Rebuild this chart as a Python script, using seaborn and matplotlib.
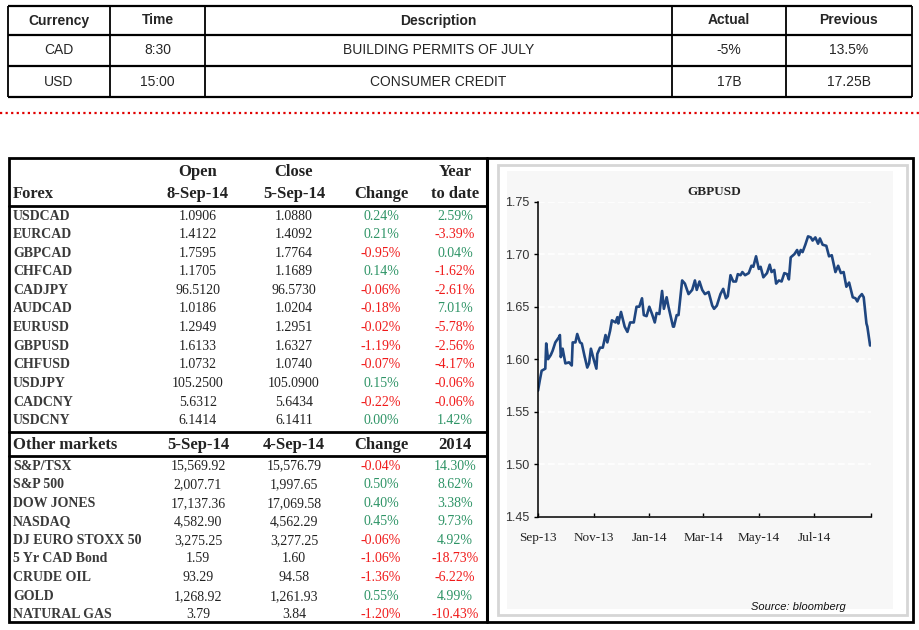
import pandas as pd
import matplotlib
matplotlib.use("Agg")
import matplotlib.pyplot as plt
from matplotlib.patches import Rectangle
import seaborn as sns

# economic calendar (top table)
event_cols = ["Currency", "Time", "Description", "Actual", "Previous"]
event_currency = ["CAD", "USD"]
event_time = ["8:30", "15:00"]
event_desc = ["BUILDING PERMITS OF JULY", "CONSUMER CREDIT"]
event_actual = ["-5%", "17B"]
event_previous = ["13.5%", "17.25B"]

# forex block
forex_names = ["USDCAD", "EURCAD", "GBPCAD", "CHFCAD", "CADJPY", "AUDCAD",
               "EURUSD", "GBPUSD", "CHFUSD", "USDJPY", "CADCNY", "USDCNY"]
forex_open = ["1.0906", "1.4122", "1.7595", "1.1705", "96.5120", "1.0186",
              "1.2949", "1.6133", "1.0732", "105.2500", "5.6312", "6.1414"]
forex_close = ["1.0880", "1.4092", "1.7764", "1.1689", "96.5730", "1.0204",
               "1.2951", "1.6327", "1.0740", "105.0900", "5.6434", "6.1411"]
forex_change = ["0.24%", "0.21%", "-0.95%", "0.14%", "-0.06%", "-0.18%",
                "-0.02%", "-1.19%", "-0.07%", "0.15%", "-0.22%", "0.00%"]
forex_ytd = ["2.59%", "-3.39%", "0.04%", "-1.62%", "-2.61%", "7.01%",
             "-5.78%", "-2.56%", "-4.17%", "-0.06%", "-0.06%", "1.42%"]

# other markets block
market_names = ["S&P/TSX", "S&P 500", "DOW JONES", "NASDAQ", "DJ EURO STOXX 50",
                "5 Yr CAD Bond", "CRUDE OIL", "GOLD", "NATURAL GAS"]
market_open = ["15,569.92", "2,007.71", "17,137.36", "4,582.90", "3,275.25",
               "1.59", "93.29", "1,268.92", "3.79"]
market_close = ["15,576.79", "1,997.65", "17,069.58", "4,562.29", "3,277.25",
                "1.60", "94.58", "1,261.93", "3.84"]
market_change = ["-0.04%", "0.50%", "0.40%", "0.45%", "-0.06%",
                 "-1.06%", "-1.36%", "0.55%", "-1.20%"]
market_ytd = ["14.30%", "8.62%", "3.38%", "9.73%", "4.92%",
              "-18.73%", "-6.22%", "4.99%", "-10.43%"]

# GBPUSD
gbp_dates = [
    "2013-09-01", "2013-09-03", "2013-09-05", "2013-09-09", "2013-09-10", "2013-09-12",
    "2013-09-15", "2013-09-17", "2013-09-20", "2013-09-24", "2013-09-25", "2013-09-26",
    "2013-09-28", "2013-10-01", "2013-10-05", "2013-10-08", "2013-10-09", "2013-10-12",
    "2013-10-14", "2013-10-17", "2013-10-19", "2013-10-22", "2013-10-25", "2013-10-27",
    "2013-10-29", "2013-11-01", "2013-11-04", "2013-11-05", "2013-11-08", "2013-11-11",
    "2013-11-14", "2013-11-16", "2013-11-19", "2013-11-21", "2013-11-25", "2013-11-27",
    "2013-11-28", "2013-12-01", "2013-12-05", "2013-12-08", "2013-12-11", "2013-12-15",
    "2013-12-18", "2013-12-21", "2013-12-24", "2013-12-26", "2013-12-29", "2014-01-01",
    "2014-01-04", "2014-01-07", "2014-01-09", "2014-01-12", "2014-01-15", "2014-01-17",
    "2014-01-20", "2014-01-22", "2014-01-27", "2014-01-28", "2014-01-31", "2014-02-02",
    "2014-02-06", "2014-02-09", "2014-02-13", "2014-02-17", "2014-02-20", "2014-02-22",
    "2014-02-25", "2014-02-28", "2014-03-03", "2014-03-07", "2014-03-11", "2014-03-13",
    "2014-03-16", "2014-03-20", "2014-03-23", "2014-03-26", "2014-03-28", "2014-03-31",
    "2014-04-03", "2014-04-06", "2014-04-08", "2014-04-11", "2014-04-13", "2014-04-16",
    "2014-04-20", "2014-04-23", "2014-04-25", "2014-04-28", "2014-05-01", "2014-05-03",
    "2014-05-06", "2014-05-10", "2014-05-13", "2014-05-15", "2014-05-18", "2014-05-20",
    "2014-05-23", "2014-05-26", "2014-05-29", "2014-06-01", "2014-06-03", "2014-06-05",
    "2014-06-09", "2014-06-12", "2014-06-14", "2014-06-16", "2014-06-18", "2014-06-21",
    "2014-06-24", "2014-06-27", "2014-06-29", "2014-07-02", "2014-07-05", "2014-07-07",
    "2014-07-10", "2014-07-14", "2014-07-17", "2014-07-20", "2014-07-24", "2014-07-27",
    "2014-07-30", "2014-08-02", "2014-08-05", "2014-08-08", "2014-08-12", "2014-08-15",
    "2014-08-17", "2014-08-19", "2014-08-22", "2014-08-24", "2014-08-27", "2014-08-28",
    "2014-08-31"]
gbp_values = [
    1.570, 1.580, 1.589, 1.591, 1.615, 1.600,
    1.604, 1.608, 1.616, 1.621, 1.623, 1.602,
    1.610, 1.596, 1.597, 1.594, 1.616, 1.616,
    1.624, 1.616, 1.615, 1.603, 1.592, 1.596,
    1.610, 1.600, 1.591, 1.605, 1.611, 1.611,
    1.623, 1.616, 1.627, 1.637, 1.635, 1.640,
    1.634, 1.645, 1.631, 1.626, 1.635, 1.635,
    1.650, 1.650, 1.658, 1.642, 1.641, 1.650,
    1.643, 1.635, 1.644, 1.643, 1.665, 1.648,
    1.659, 1.650, 1.631, 1.631, 1.642, 1.642,
    1.675, 1.672, 1.662, 1.666, 1.675, 1.666,
    1.674, 1.666, 1.662, 1.664, 1.651, 1.648,
    1.651, 1.662, 1.667, 1.658, 1.660, 1.680,
    1.674, 1.674, 1.681, 1.680, 1.683, 1.680,
    1.682, 1.689, 1.688, 1.698, 1.686, 1.688,
    1.678, 1.682, 1.690, 1.683, 1.685, 1.672,
    1.675, 1.674, 1.682, 1.681, 1.676, 1.697,
    1.700, 1.704, 1.699, 1.704, 1.702, 1.709,
    1.717, 1.716, 1.713, 1.716, 1.710, 1.715,
    1.709, 1.708, 1.698, 1.699, 1.683, 1.689,
    1.682, 1.683, 1.669, 1.673, 1.659, 1.658,
    1.655, 1.659, 1.662, 1.659, 1.634, 1.631,
    1.613]
month_ticks = ["2013-09-01", "2013-11-01", "2014-01-01", "2014-03-01",
               "2014-05-01", "2014-07-01", "2014-09-01"]
month_labels = ["Sep-13", "Nov-13", "Jan-14", "Mar-14", "May-14", "Jul-14", ""]

sns.set_style("ticks")
plt.rcParams["font.family"] = ["Liberation Sans", "DejaVu Sans"]

SANS = ["Liberation Sans", "DejaVu Sans"]
NARROW = ["Liberation Sans Narrow", "Liberation Sans", "DejaVu Sans"]
SERIF = ["Liberation Serif", "DejaVu Serif"]
GREEN = "#2e9466"
RED = "#f01a1a"
LABEL = "#3a3a3a"

fig = plt.figure(figsize=(9.2, 6.3), dpi=100)
fig.patch.set_facecolor("white")

# full-figure canvas in pixel units for the tables and frames
bg = fig.add_axes([0, 0, 1, 1])
bg.set_xlim(0, 920)
bg.set_ylim(630, 0)
bg.axis("off")

# ---- top table
x_lines = [8, 110, 205, 672, 786, 912]
y_lines = [6, 35, 66, 97]
for y in y_lines:
    bg.plot([x_lines[0], x_lines[-1]], [y, y], color="black", lw=1.6, solid_capstyle="butt")
for x in x_lines:
    bg.plot([x, x], [y_lines[0], y_lines[-1]], color="black", lw=1.3, solid_capstyle="butt")
col_centers = [(a + b) / 2 for a, b in zip(x_lines[:-1], x_lines[1:])]
row_centers = [(a + b) / 2 for a, b in zip(y_lines[:-1], y_lines[1:])]
for cx, name in zip(col_centers, event_cols):
    bg.text(cx, row_centers[0], name, ha="center", va="center", fontsize=10,
            fontweight="bold", family=SANS)
rows = list(zip(event_currency, event_time, event_desc, event_actual, event_previous))
for cy, row in zip(row_centers[1:], rows):
    for cx, val in zip(col_centers, row):
        bg.text(cx, cy, val, ha="center", va="center", fontsize=10, family=SANS)

# red dotted separator
bg.plot([0, 920], [113, 113], color="#e00000", lw=1.6, ls=(0, (1, 1.5)))

# ---- outer box for tables + chart
bg.add_patch(Rectangle((9, 158), 904, 464, fill=False, lw=2, ec="black"))
bg.plot([487, 487], [158, 622], color="black", lw=2.2)

# ---- forex table
xs = [198, 294, 381, 455]
bg.text(13, 194, "Forex", ha="left", va="center", fontsize=12, fontweight="bold", family=SERIF)
for cx, top, bot in zip(xs, ["Open", "Close", "", "Year"],
                        ["8-Sep-14", "5-Sep-14", "Change", "to date"]):
    bg.text(cx, 172, top, ha="center", va="center", fontsize=12, fontweight="bold",
            family=SERIF, color="#222222")
    bg.text(cx, 194, bot, ha="center", va="center", fontsize=12, fontweight="bold",
            family=SERIF, color="#222222")
bg.plot([9, 487], [206, 206], color="black", lw=2)


def pct_color(s):
    return RED if s.startswith("-") else GREEN


def draw_block(y0, names, opens, closes, changes, ytds, step=18.6):
    for i, name in enumerate(names):
        y = y0 + i * step
        bg.text(13, y, name, ha="left", va="center", fontsize=10, fontweight="bold",
                family=SERIF, color=LABEL)
        bg.text(xs[0], y, opens[i], ha="center", va="center", fontsize=10, family=SERIF, color="#222222")
        bg.text(xs[1], y, closes[i], ha="center", va="center", fontsize=10, family=SERIF, color="#222222")
        bg.text(xs[2], y, changes[i], ha="center", va="center", fontsize=10, family=SERIF,
                color=pct_color(changes[i]))
        bg.text(xs[3], y, ytds[i], ha="center", va="center", fontsize=10, family=SERIF,
                color=pct_color(ytds[i]))


draw_block(216, forex_names, forex_open, forex_close, forex_change, forex_ytd)

# ---- other markets table
bg.plot([9, 487], [432, 432], color="black", lw=2)
bg.text(13, 445, "Other markets", ha="left", va="center", fontsize=12, fontweight="bold",
        family=SERIF)
for cx, lab in zip(xs, ["5-Sep-14", "4-Sep-14", "Change", "2014"]):
    bg.text(cx, 445, lab, ha="center", va="center", fontsize=12, fontweight="bold",
            family=SERIF, color="#222222")
bg.plot([9, 487], [456, 456], color="black", lw=2)
draw_block(466, market_names, market_open, market_close, market_change, market_ytd)

# ---- chart frame
bg.add_patch(Rectangle((498, 165), 409, 450, fill=True, fc="white", ec="#d6d6d6", lw=2))
bg.add_patch(Rectangle((507, 171), 386, 438, fill=True, fc="#f7f7f7", ec="none"))
bg.text(714, 192, "GBPUSD", ha="center", va="center", fontsize=9.5, fontweight="bold",
        family=SERIF)
bg.text(846, 607, "Source: bloomberg", ha="right", va="center", fontsize=8,
        style="italic", family=SANS, color="#111111")

# ---- GBPUSD line chart
left, right, top, bottom = 538, 871, 201.7, 516.7
ax = fig.add_axes([left / 920, (630 - bottom) / 630, (right - left) / 920, (bottom - top) / 630])
ax.set_facecolor("none")
gbp = pd.DataFrame({"date": pd.to_datetime(gbp_dates), "GBPUSD": gbp_values})
sns.lineplot(data=gbp, x="date", y="GBPUSD", ax=ax, color="#1f4680", lw=1.9)
ax.set_xlim(pd.Timestamp(month_ticks[0]), pd.Timestamp(month_ticks[-1]))
ax.set_ylim(1.45, 1.75)
ax.set_yticks([1.45, 1.50, 1.55, 1.60, 1.65, 1.70, 1.75])
ax.set_yticklabels([f"{v:.2f}" for v in ax.get_yticks()], family=NARROW, fontsize=9,
                   color="#333333")
ax.set_xticks(pd.to_datetime(month_ticks))
ax.set_xticklabels(month_labels, family=SERIF, fontsize=9.5, color="#222222")
ax.set_xlabel("")
ax.set_ylabel("")
ax.yaxis.grid(True, color="white", lw=1.2, ls=(0, (4, 2)))
ax.set_axisbelow(True)
for s in ["top", "right"]:
    ax.spines[s].set_visible(False)
for s in ["left", "bottom"]:
    ax.spines[s].set_color("black")
    ax.spines[s].set_linewidth(1.1)
ax.tick_params(axis="y", direction="out", length=3, width=1, pad=3, color="black")
ax.tick_params(axis="x", direction="in", length=3, width=1, pad=11, color="black")

fig.savefig("out.png", dpi=100)
